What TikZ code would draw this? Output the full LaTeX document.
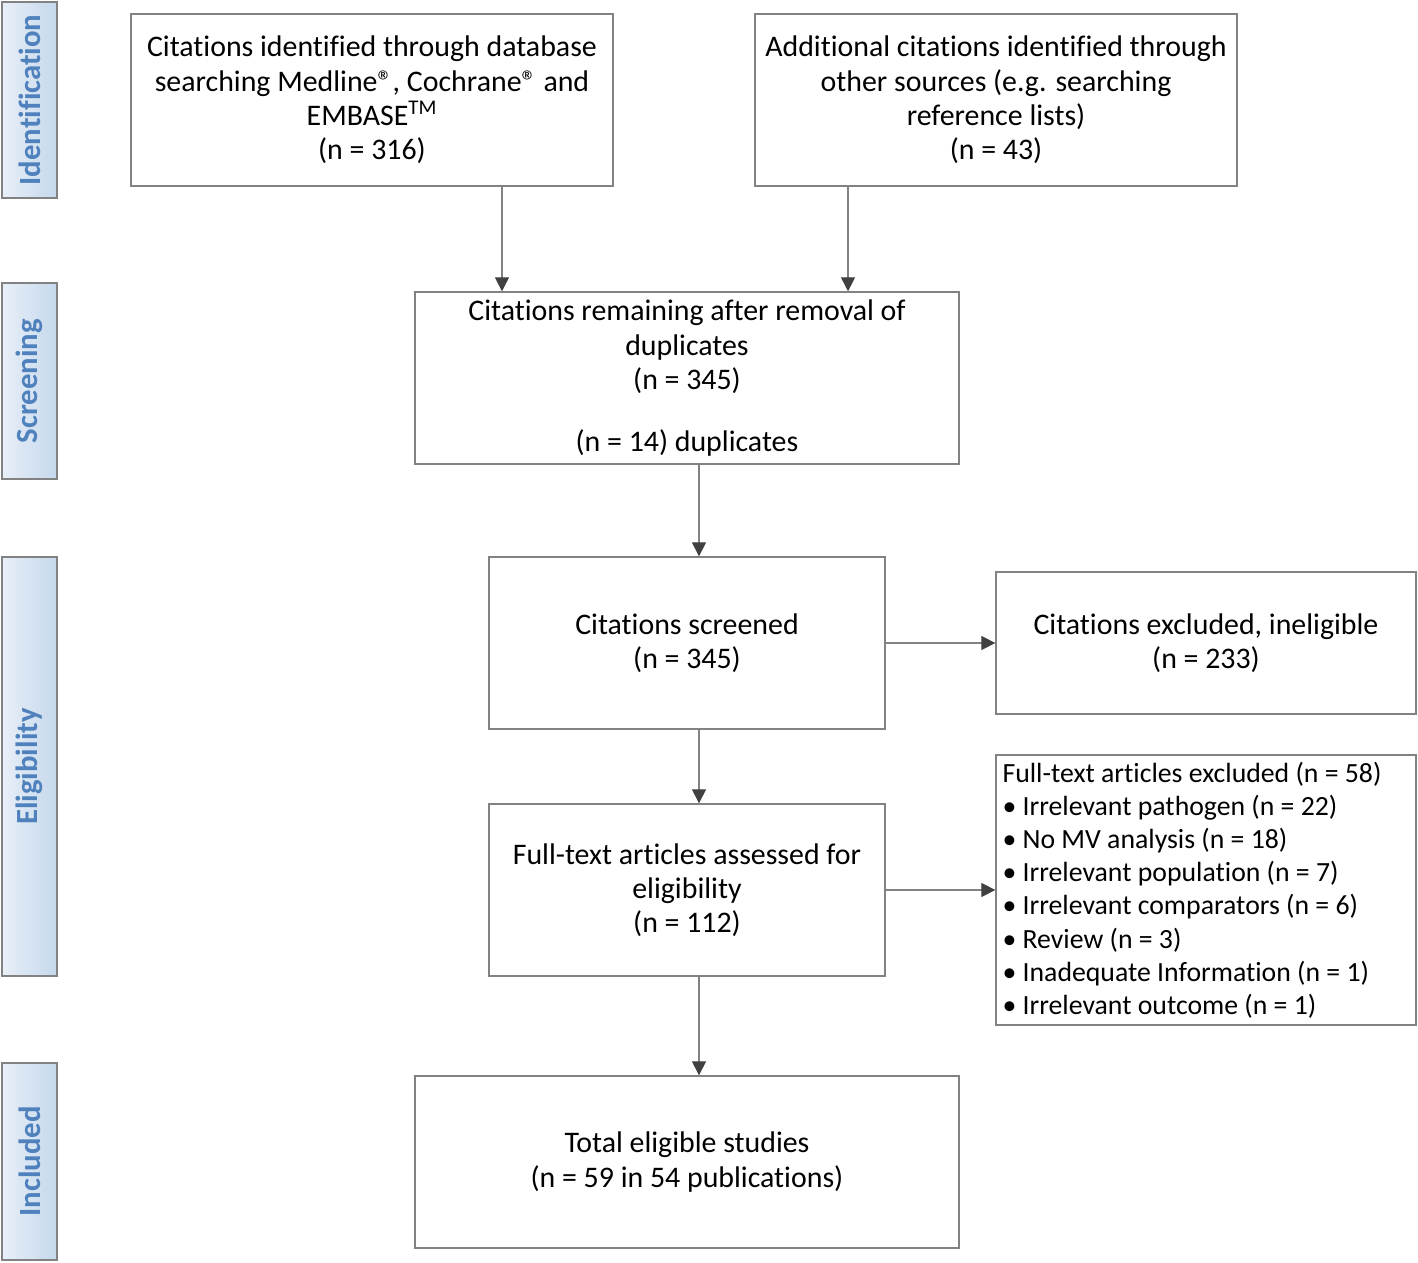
\documentclass[tikz,border=0pt]{standalone}
\usepackage{fontspec}
\setmainfont{Carlito}[Ligatures=NoCommon]
\usetikzlibrary{positioning,arrows.meta}
\definecolor{phaseblue}{RGB}{79,129,189}
\definecolor{phaselight}{RGB}{232,239,248}
\definecolor{phasedark}{RGB}{197,216,236}
\definecolor{boxgray}{RGB}{130,130,130}
\definecolor{tipgray}{RGB}{64,64,64}

\begin{document}
\begin{tikzpicture}[x=0.02cm, y=-0.02cm, font=\fontsize{17}{19.5}\selectfont,
  box/.style={draw=boxgray, line width=0.8pt, align=center, inner sep=0pt, minimum height=3.44cm},
  phase/.style={draw=boxgray, line width=0.8pt, minimum width=1.1cm, inner sep=0pt,
    left color=phaselight, right color=phasedark, text=phaseblue, font=\fontsize{17.5}{19.5}\selectfont\bfseries},
  arr/.style={draw=boxgray, line width=0.8pt, -{Triangle[length=8pt, width=8pt, color=tipgray]}}]
\useasboundingbox (0,0) rectangle (1418,1263);

%phases
\node[phase, minimum height=3.92cm] (pid) at (29.5,100) {\rotatebox{90}{Identification}};
\node[phase, minimum height=3.92cm] (psc) at (29.5,381) {\rotatebox{90}{Screening}};
\node[phase, minimum height=8.38cm] (pel) at (29.5,766.5) {\rotatebox{90}{Eligibility}};
\node[phase, minimum height=3.94cm] (pin) at (29.5,1161.5) {\rotatebox{90}{Included}};

%identification
\node[box, minimum width=9.64cm] (b1) at (372,100) {Citations identified through database\\ searching Medline®, Cochrane® and\\ EMBASE\textsuperscript{TM}\\ (n = 316)};
\node[box, minimum width=9.64cm] (b2) at (996,100) {Additional citations identified through\\ other sources (e.g. searching\\ reference lists)\\ (n = 43)};

%screening
\node[box, minimum width=10.88cm] (b3) at (687,378) {Citations remaining after removal of\\ duplicates\\ (n = 345)\\[15.6pt] (n = 14) duplicates};

%eligibility
\node[box, minimum width=7.92cm] (b4) at (687,643) {Citations screened\\ (n = 345)};
\node[box, minimum width=8.4cm, minimum height=2.84cm] (b5) at (1206,643) {Citations excluded, ineligible\\ (n = 233)};
\node[box, minimum width=7.92cm] (b6) at (687,890) {Full-text articles assessed for\\ eligibility\\ (n = 112)};
\node[box, minimum width=8.4cm, minimum height=5.4cm, align=flush left, text width=8.14cm, font=\fontsize{15.8}{18.9}\selectfont] (b7) at (1206,890) {Full-text articles excluded (n = 58)\\
  \textbullet\ Irrelevant pathogen (n = 22)\\
  \textbullet\ No MV analysis (n = 18)\\
  \textbullet\ Irrelevant population (n = 7)\\
  \textbullet\ Irrelevant comparators (n = 6)\\
  \textbullet\ Review (n = 3)\\
  \textbullet\ Inadequate Information (n = 1)\\
  \textbullet\ Irrelevant outcome (n = 1)};

%included
\node[box, minimum width=10.88cm] (b8) at (687,1162) {Total eligible studies\\ (n = 59 in 54 publications)};

%arrows
\draw[arr] ([xshift=2.6cm]b1.south) -- ([xshift=2.6cm]b1.south |- b3.north);
\draw[arr] ([xshift=-2.96cm]b2.south) -- ([xshift=-2.96cm]b2.south |- b3.north);
\draw[arr] ([xshift=0.24cm]b3.south) -- ([xshift=0.24cm]b3.south |- b4.north);
\draw[arr] (b4.east) -- (b5.west);
\draw[arr] ([xshift=0.24cm]b4.south) -- ([xshift=0.24cm]b4.south |- b6.north);
\draw[arr] (b6.east) -- (b7.west);
\draw[arr] ([xshift=0.24cm]b6.south) -- ([xshift=0.24cm]b6.south |- b8.north);
\end{tikzpicture}
\end{document}
